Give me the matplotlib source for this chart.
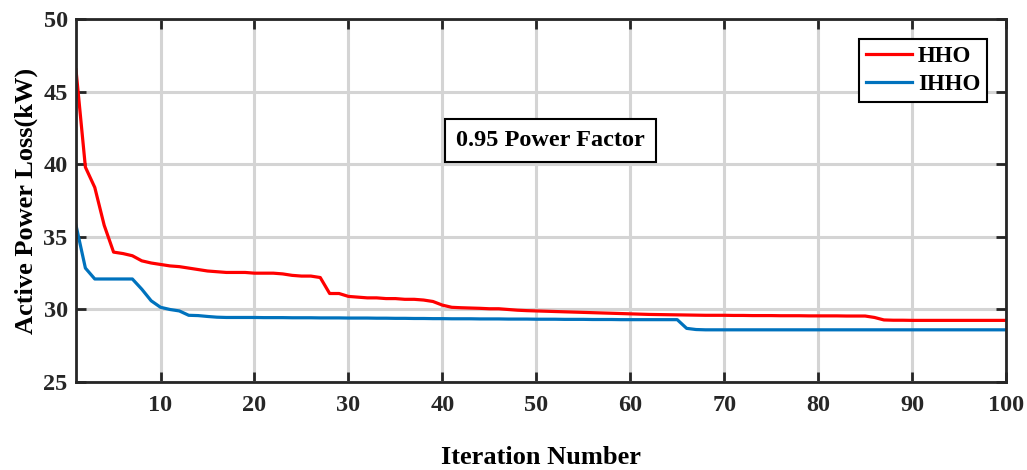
import numpy as np
import matplotlib
matplotlib.use("Agg")
from matplotlib import pyplot as plt

# datos de convergencia
iteraciones = np.arange(1, 101)

hho = [46.5, 39.8, 38.4, 35.8, 33.95, 33.85, 33.7, 33.35, 33.2, 33.1,
       33.0, 32.95, 32.85, 32.75, 32.65, 32.6, 32.55, 32.55, 32.55, 32.5,
       32.5, 32.5, 32.45, 32.35, 32.3, 32.3, 32.2, 31.1, 31.1, 30.9,
       30.85, 30.8, 30.8, 30.75, 30.75, 30.7, 30.7, 30.65, 30.55, 30.3,
       30.15, 30.12, 30.1, 30.08, 30.05, 30.05, 30.0, 29.95, 29.92, 29.9,
       29.88, 29.86, 29.84, 29.82, 29.8, 29.78, 29.76, 29.74, 29.72, 29.7,
       29.68, 29.66, 29.65, 29.64, 29.63, 29.62, 29.61, 29.6, 29.6, 29.6,
       29.59, 29.59, 29.58, 29.58, 29.58, 29.57, 29.57, 29.57, 29.56, 29.56,
       29.56, 29.56, 29.55, 29.55, 29.55, 29.45, 29.28, 29.26, 29.26, 29.25,
       29.25, 29.25, 29.25, 29.25, 29.25, 29.25, 29.25, 29.25, 29.25, 29.25]

ihho = [35.8, 32.85, 32.1, 32.1, 32.1, 32.1, 32.1, 31.4, 30.6, 30.15,
        30.0, 29.9, 29.6, 29.58, 29.52, 29.47, 29.45, 29.45, 29.45, 29.45,
        29.44, 29.44, 29.44, 29.43, 29.43, 29.43, 29.42, 29.42, 29.42, 29.41,
        29.41, 29.41, 29.4, 29.4, 29.39, 29.39, 29.38, 29.38, 29.37, 29.37,
        29.36, 29.36, 29.36, 29.35, 29.35, 29.35, 29.34, 29.34, 29.34, 29.33,
        29.33, 29.33, 29.32, 29.32, 29.32, 29.31, 29.31, 29.31, 29.3, 29.3,
        29.3, 29.3, 29.3, 29.3, 29.3, 28.7, 28.62, 28.6, 28.6, 28.6,
        28.6, 28.6, 28.6, 28.6, 28.6, 28.6, 28.6, 28.6, 28.6, 28.6,
        28.6, 28.6, 28.6, 28.6, 28.6, 28.6, 28.6, 28.6, 28.6, 28.6,
        28.6, 28.6, 28.6, 28.6, 28.6, 28.6, 28.6, 28.6, 28.6, 28.6]

xticks = [10, 20, 30, 40, 50, 60, 70, 80, 90, 100]
yticks = [25, 30, 35, 40, 45, 50]

plt.rcParams['font.family'] = ['Liberation Serif', 'DejaVu Serif']
plt.rcParams['font.weight'] = 'bold'

fig = plt.figure(figsize=(10.27, 4.70), dpi=100)
ax = fig.add_axes([0.074, 0.187, 0.9056, 0.7726])

ax.plot(iteraciones, hho, color='#FF0000', lw=2.3, label='HHO')
ax.plot(iteraciones, ihho, color='#0072BD', lw=2.3, label='IHHO')

ax.set_xlim(1, 100)
ax.set_ylim(25, 50)
ax.set_xticks(xticks)
ax.set_yticks(yticks)
ax.grid(True, color='#d4d4d4', lw=2.2)
ax.set_axisbelow(True)

ax.tick_params(direction='in', length=7.5, width=2, top=True, right=True,
               labelsize=17.5, color='#262626', labelcolor='#262626')
ax.tick_params(axis='x', pad=9)
ax.tick_params(axis='y', pad=6)
for s in ax.spines.values():
    s.set_linewidth(2)
    s.set_color('#262626')

ax.set_xlabel('Iteration Number', fontsize=19, fontweight='bold', labelpad=22)
ax.set_ylabel('Active Power Loss(kW)', fontsize=19, fontweight='bold', labelpad=4)

ax.text(51.5, 41.63, '0.95 Power Factor', fontsize=17.5, fontweight='bold',
        ha='center', va='center',
        bbox=dict(boxstyle='square,pad=0.45', fc='white', ec='black', lw=1.5))

leg = ax.legend(loc='upper right', bbox_to_anchor=(0.9796, 0.945), fontsize=16.5,
                fancybox=False, framealpha=1, edgecolor='black',
                handlelength=2.0, handletextpad=0.25, borderpad=0.3,
                labelspacing=0.3, borderaxespad=0)
leg.get_frame().set_linewidth(1.5)

plt.savefig('out.png', dpi=100)
